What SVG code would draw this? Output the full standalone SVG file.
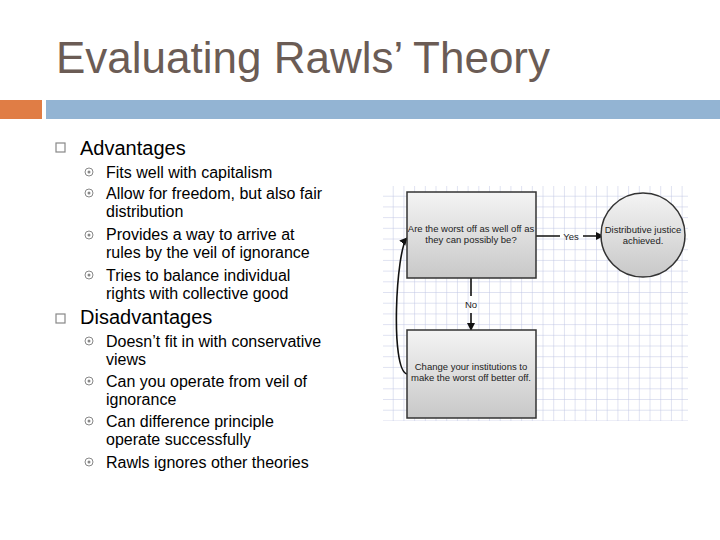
<svg xmlns="http://www.w3.org/2000/svg" width="720" height="540" viewBox="0 0 720 540">
<defs>
<pattern id="grid" width="10.7" height="10.7" patternUnits="userSpaceOnUse" x="383" y="186"><path d="M10.7 0V10.7H0" fill="none" stroke="#b9bfe0" stroke-width="0.9"/></pattern>
<linearGradient id="gb" x1="0" y1="0" x2="0" y2="1"><stop offset="0" stop-color="#f4f4f4"/><stop offset="1" stop-color="#c8c8c8"/></linearGradient>
<marker id="ah" markerWidth="8" markerHeight="8" refX="7" refY="4" orient="auto" markerUnits="userSpaceOnUse" viewBox="0 0 8 8"><path d="M0 0L8 4L0 8z" fill="#111"/></marker>
<style>
.t{font-family:"Liberation Sans",Arial,sans-serif;fill:#000}
.h{font-size:20px}.s{font-size:16px}
.f{font-family:"Liberation Sans",Arial,sans-serif;font-size:9.5px;fill:#222;text-anchor:middle}
.n{stroke:#333;stroke-width:1.5;fill:url(#gb)}
.c{stroke:#111;stroke-width:1.6;fill:none}
.b{fill:#888}
</style>
</defs>
<rect width="720" height="540" fill="#fff"/>
<text x="56" y="73" font-family="'Liberation Sans',Arial,sans-serif" font-size="44" fill="#6b5c55">Evaluating Rawls’ Theory</text>
<rect x="0" y="100" width="42" height="19" fill="#e07d45"/>
<rect x="46" y="100" width="674" height="19" fill="#93b4d3"/>
<g id="list">
<rect x="56" y="143" width="9" height="9" fill="none" stroke="#888" stroke-width="1.2"/>
<text class="t h" x="80" y="155">Advantages</text>
<g class="b"><circle cx="89" cy="172" r="4" fill="none" stroke="#888"/><circle cx="89" cy="172" r="1.5"/>
<circle cx="89" cy="193" r="4" fill="none" stroke="#888"/><circle cx="89" cy="193" r="1.5"/>
<circle cx="89" cy="235" r="4" fill="none" stroke="#888"/><circle cx="89" cy="235" r="1.5"/>
<circle cx="89" cy="275" r="4" fill="none" stroke="#888"/><circle cx="89" cy="275" r="1.5"/></g>
<text class="t s" x="106" y="178">Fits well with capitalism</text>
<text class="t s" x="106" y="199">Allow for freedom, but also fair</text>
<text class="t s" x="106" y="217">distribution</text>
<text class="t s" x="106" y="240">Provides a way to arrive at</text>
<text class="t s" x="106" y="258">rules by the veil of ignorance</text>
<text class="t s" x="106" y="281">Tries to balance individual</text>
<text class="t s" x="106" y="299">rights with collective good</text>
<rect x="56" y="314" width="9" height="9" fill="none" stroke="#888" stroke-width="1.2"/>
<text class="t h" x="80" y="324">Disadvantages</text>
<g class="b"><circle cx="89" cy="341" r="4" fill="none" stroke="#888"/><circle cx="89" cy="341" r="1.5"/>
<circle cx="89" cy="381" r="4" fill="none" stroke="#888"/><circle cx="89" cy="381" r="1.5"/>
<circle cx="89" cy="421" r="4" fill="none" stroke="#888"/><circle cx="89" cy="421" r="1.5"/>
<circle cx="89" cy="462" r="4" fill="none" stroke="#888"/><circle cx="89" cy="462" r="1.5"/></g>
<text class="t s" x="106" y="347">Doesn’t fit in with conservative</text>
<text class="t s" x="106" y="365">views</text>
<text class="t s" x="106" y="387">Can you operate from veil of</text>
<text class="t s" x="106" y="405">ignorance</text>
<text class="t s" x="106" y="427">Can difference principle</text>
<text class="t s" x="106" y="445">operate successfully</text>
<text class="t s" x="106" y="468">Rawls ignores other theories</text>
</g>
<rect x="383" y="186" width="305" height="235" fill="url(#grid)"/>
<g id="connectors">
<path class="c" d="M536 236H560M583 236H603" marker-end="url(#ah)"/>
<path class="c" d="M471 278V296M471 313V330" marker-end="url(#ah)"/>
<path class="c" d="M407 374C390 370 396 250 407 238" marker-end="url(#ah)"/>
<text class="f" x="571" y="240">Yes</text>
<text class="f" x="471" y="308">No</text>
</g>
<g id="q"><rect class="n" x="407" y="192" width="129" height="86"/>
<text class="f" x="471" y="232">Are the worst off as well off as</text><text class="f" x="471" y="243">they can possibly be?</text></g>
<g id="done"><circle class="n" cx="643" cy="235" r="42"/>
<text class="f" x="643" y="233">Distributive justice</text><text class="f" x="643" y="244">achieved.</text></g>
<g id="change"><rect class="n" x="407" y="330" width="129" height="88"/>
<text class="f" x="471" y="370">Change your institutions to</text><text class="f" x="471" y="381">make the worst off better off.</text></g>
</svg>
